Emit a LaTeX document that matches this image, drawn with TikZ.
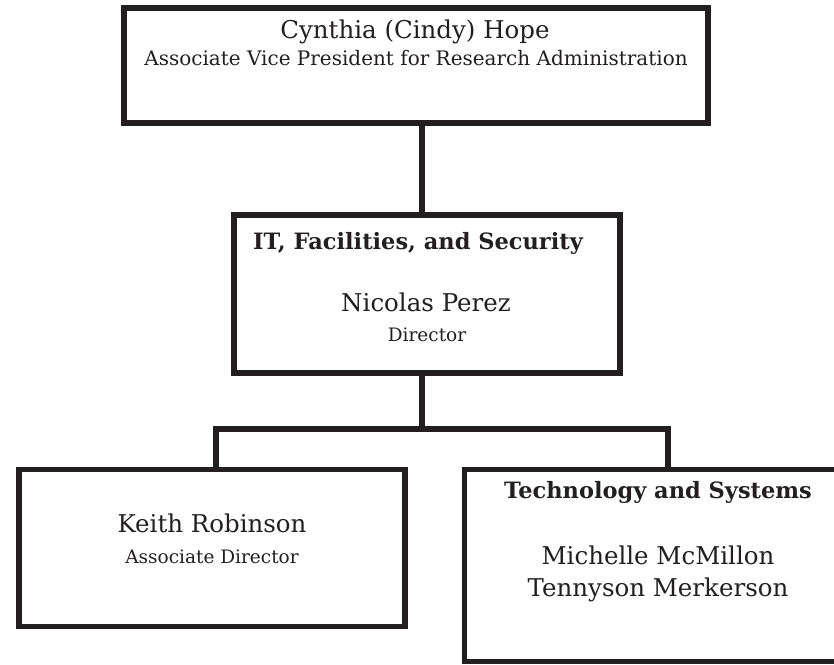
\documentclass[tikz,border=0pt]{standalone}
\usepackage{fontspec}
\setmainfont{DejaVu Serif}
\usetikzlibrary{positioning}
\definecolor{ink}{RGB}{35,31,32}

\tikzset{
  box/.style={draw=ink, line width=5.7pt, minimum width=386pt, inner sep=0pt},
  link/.style={draw=ink, line width=5.7pt},
  person/.style={anchor=base, font=\fontsize{24.5}{29}\selectfont},
  role/.style={anchor=base, font=\fontsize{18.5}{22}\selectfont},
  unit/.style={anchor=base, font=\bfseries\fontsize{22.5}{27}\selectfont}
}

\begin{document}
\begin{tikzpicture}[x=1pt, y=-1pt, every node/.style={text=ink}]
\useasboundingbox (0,0) rectangle (834,664);
\clip (0,0) rectangle (834,664);

% boxes
\node[box, minimum width=584pt, minimum height=115pt] (vp) at (416,65.5) {};
\node[box, minimum height=158pt] (dir) at (427,294) {};
\node[box, minimum height=157pt] (assoc) at (212,548) {};
\node[box, minimum height=192pt] (tech) at (657.5,565.5) {};

% texts
\node[person] (cindy) at (415,38) {Cynthia (Cindy) Hope};
\node[role, font=\fontsize{20}{24}\selectfont] (avp) at (416,65) {Associate Vice President for Research Administration};
\node[unit] (itfs) at (418,249) {IT, Facilities, and Security};
\node[person] (nicolas) at (426,311) {Nicolas Perez};
\node[role] (director) at (427,341) {Director};
\node[person] (keith) at (212,532) {Keith Robinson};
\node[role] (adir) at (212,563) {Associate Director};
\node[unit] (techsys) at (658,498) {Technology and Systems};
\node[person] (michelle) at (658,564) {Michelle McMillon};
\node[person] (tennyson) at (658,596) {Tennyson Merkerson};

% connectors
\draw[link] ([xshift=6pt]vp.south) -- ([xshift=-5pt]dir.north);
\draw[link] ([xshift=-5pt]dir.south) -- ++(0,53) -| ([xshift=4pt]assoc.north);
\draw[link] ([xshift=-5pt]dir.south) -- ++(0,53) -| ([xshift=10.5pt]tech.north);
\end{tikzpicture}
\end{document}
